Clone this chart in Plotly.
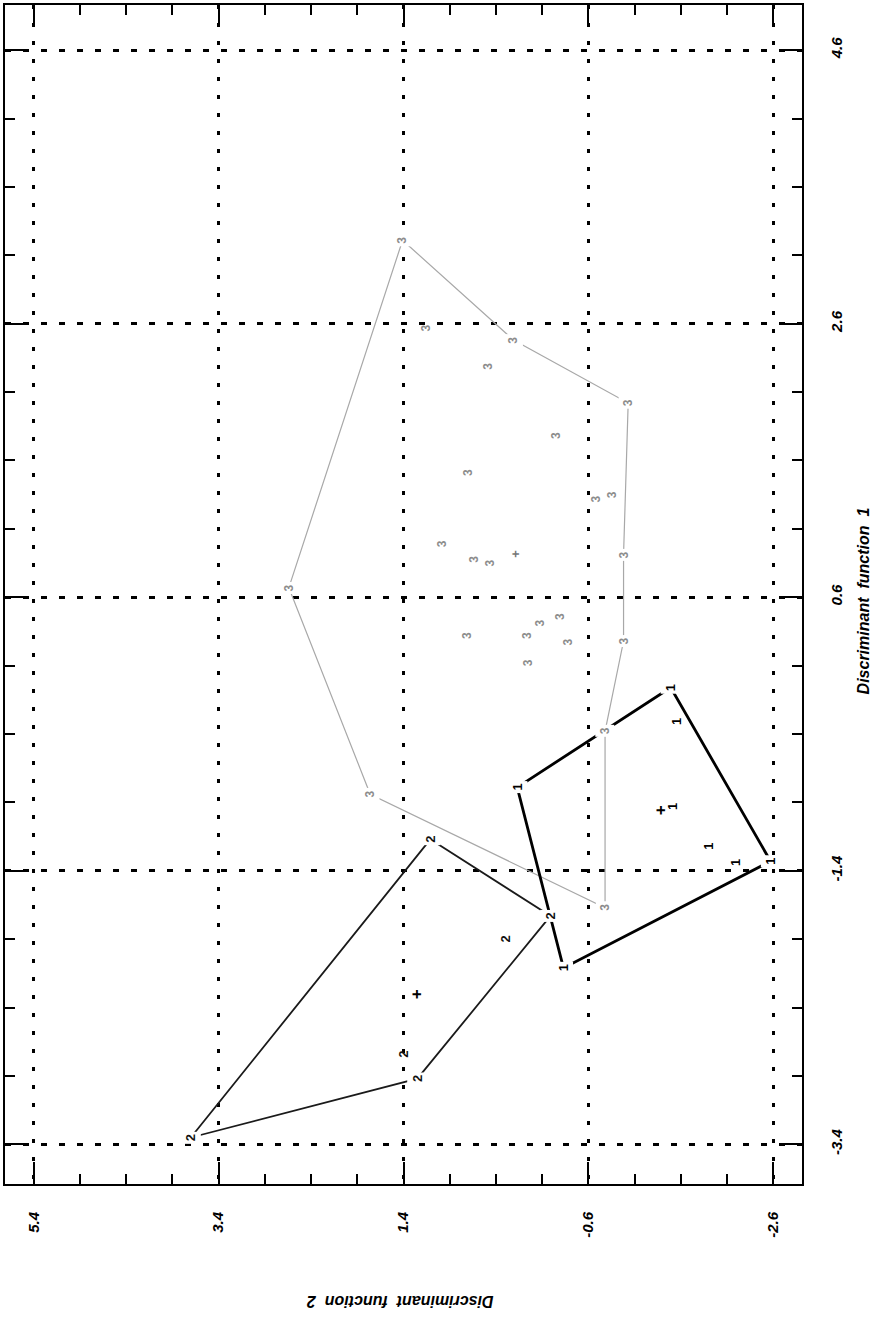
import plotly.graph_objects as go

# ---- data (Discriminant function 2 = horizontal, reversed; Discriminant function 1 = vertical) ----
# Group 1
g1_hull_df2 = [0.17, -1.49, -2.57, -0.33, 0.17]
g1_hull_df1 = [-0.79, -0.06, -1.33, -2.11, -0.79]
g1_vert_df2 = [0.17, -1.49, -2.57, -0.33]
g1_vert_df1 = [-0.79, -0.06, -1.33, -2.11]
g1_pts_df2 = [-1.55, -1.51, -1.89, -2.19]
g1_pts_df1 = [-0.31, -0.93, -1.22, -1.34]
g1_centroid = (-1.38, -0.96)

# Group 2
g2_hull_df2 = [1.11, -0.19, 1.25, 3.70, 1.11]
g2_hull_df1 = [-1.17, -1.73, -2.92, -3.35, -1.17]
g2_vert_df2 = [1.11, -0.19, 1.25, 3.70]
g2_vert_df1 = [-1.17, -1.73, -2.92, -3.35]
g2_pts_df2 = [0.30, 1.41]
g2_pts_df1 = [-1.90, -2.74]
g2_centroid = (1.26, -2.30)

# Group 3
g3_hull_df2 = [1.41, 0.21, -1.03, -0.98, -0.98, -0.78, -0.78, 1.76, 2.64, 1.41]
g3_hull_df1 = [3.21, 2.48, 2.02, 0.91, 0.28, -0.38, -1.67, -0.84, 0.67, 3.21]
g3_vert_df2 = [1.41, 0.21, -1.03, -0.98, -0.98, -0.78, -0.78, 1.76, 2.64]
g3_vert_df1 = [3.21, 2.48, 2.02, 0.91, 0.28, -0.38, -1.67, -0.84, 0.67]
g3_pts_df2 = [1.16, 0.49, -0.25, 0.71, -0.68, -0.85, 0.99, 0.64, 0.46,
              -0.30, -0.08, 0.72, 0.07, -0.38, 0.06]
g3_pts_df1 = [2.57, 2.29, 1.78, 1.51, 1.32, 1.35, 0.99, 0.88, 0.85,
              0.46, 0.41, 0.32, 0.32, 0.27, 0.12]
g3_centroid = (0.19, 0.92)

x_ticks = [5.4, 3.4, 1.4, -0.6, -2.6]
x_ticktext = ["5.4", "3.4", "1.4", "-0.6", "-2.6"]
y_ticks = [-3.4, -1.4, 0.6, 2.6, 4.6]
y_ticktext = ["-3.4", "-1.4", "0.6", "2.6", "4.6"]

x_range = [5.71, -2.91]
y_range = [-3.69, 4.93]

fig = go.Figure()

fig.add_trace(go.Scatter(x=g3_hull_df2, y=g3_hull_df1, mode="lines",
                         line=dict(color="#a8a8a8", width=1.2), hoverinfo="skip"))
fig.add_trace(go.Scatter(x=g2_hull_df2, y=g2_hull_df1, mode="lines",
                         line=dict(color="#1a1a1a", width=1.8), hoverinfo="skip"))
fig.add_trace(go.Scatter(x=g1_hull_df2, y=g1_hull_df1, mode="lines",
                         line=dict(color="#000000", width=2.8), hoverinfo="skip"))

annotations = []
def add_marks(xs, ys, label, color, size, bg=None):
    for xv, yv in zip(xs, ys):
        a = dict(x=xv, y=yv, xref="x", yref="y", text=label,
                 showarrow=False, textangle=-90, borderpad=2,
                 font=dict(family="Liberation Sans", size=size,
                           color=color, weight="bold"))
        if bg:
            a["bgcolor"] = bg
        annotations.append(a)

add_marks(g3_vert_df2, g3_vert_df1, "3", "#8c8c8c", 12, "white")
add_marks(g3_pts_df2, g3_pts_df1, "3", "#8c8c8c", 12)
add_marks(g2_vert_df2, g2_vert_df1, "2", "#111111", 13, "white")
add_marks(g2_pts_df2, g2_pts_df1, "2", "#111111", 13)
add_marks(g1_vert_df2, g1_vert_df1, "1", "#000000", 13, "white")
add_marks(g1_pts_df2, g1_pts_df1, "1", "#000000", 13)
add_marks([g3_centroid[0]], [g3_centroid[1]], "+", "#777777", 13)
add_marks([g2_centroid[0]], [g2_centroid[1]], "+", "#000000", 17)
add_marks([g1_centroid[0]], [g1_centroid[1]], "+", "#000000", 17)

annotations.append(dict(x=1.0915, y=0.4945, xref="paper", yref="paper",
                        text="Discriminant\u00a0 function\u00a0 1", showarrow=False,
                        textangle=-90,
                        font=dict(family="Liberation Sans", size=16, color="#000",
                                  weight="bold", style="italic")))
annotations.append(dict(x=0.496, y=-0.108, xref="paper", yref="paper",
                        text="Discriminant\u00a0 function\u00a0 2", showarrow=False,
                        textangle=180,
                        font=dict(family="Liberation Sans", size=16, color="#000",
                                  weight="bold", style="italic")))

tickfont = dict(family="Liberation Sans", size=15, color="#000", weight="bold", style="italic")

fig.update_layout(
    width=890, height=1337,
    margin=dict(l=4, r=88, t=3, b=153),
    paper_bgcolor="white", plot_bgcolor="white",
    showlegend=False,
    annotations=annotations,
    xaxis=dict(range=x_range, tickmode="array", tickvals=x_ticks, ticktext=x_ticktext,
               tickangle=-90, tickfont=tickfont, ticks="inside", ticklen=22, tickwidth=2,
               tickcolor="#000", showline=True, linecolor="#000", linewidth=2,
               mirror="ticks", showgrid=True, gridcolor="#000", gridwidth=2.5,
               griddash="4px,14px", zeroline=False, ticklabelstandoff=20,
               minor=dict(tickmode="linear", tick0=0.4, dtick=0.5, ticks="inside",
                          ticklen=10, tickwidth=2, tickcolor="#000", showgrid=False)),
    yaxis=dict(range=y_range, side="right", tickmode="array", tickvals=y_ticks,
               ticktext=y_ticktext, tickangle=-90, tickfont=tickfont, ticks="inside",
               ticklen=22, tickwidth=2, tickcolor="#000", showline=True, linecolor="#000",
               linewidth=2, mirror="ticks", showgrid=True, gridcolor="#000", gridwidth=2.5,
               griddash="6px,12px", zeroline=False, ticklabelstandoff=20,
               minor=dict(tickmode="linear", tick0=0.6, dtick=0.5, ticks="inside",
                          ticklen=10, tickwidth=2, tickcolor="#000", showgrid=False)),
)

fig.write_html("out.html", config={"displayModeBar": False},
               post_script="document.body.style.margin='0';document.body.style.overflow='hidden';")
